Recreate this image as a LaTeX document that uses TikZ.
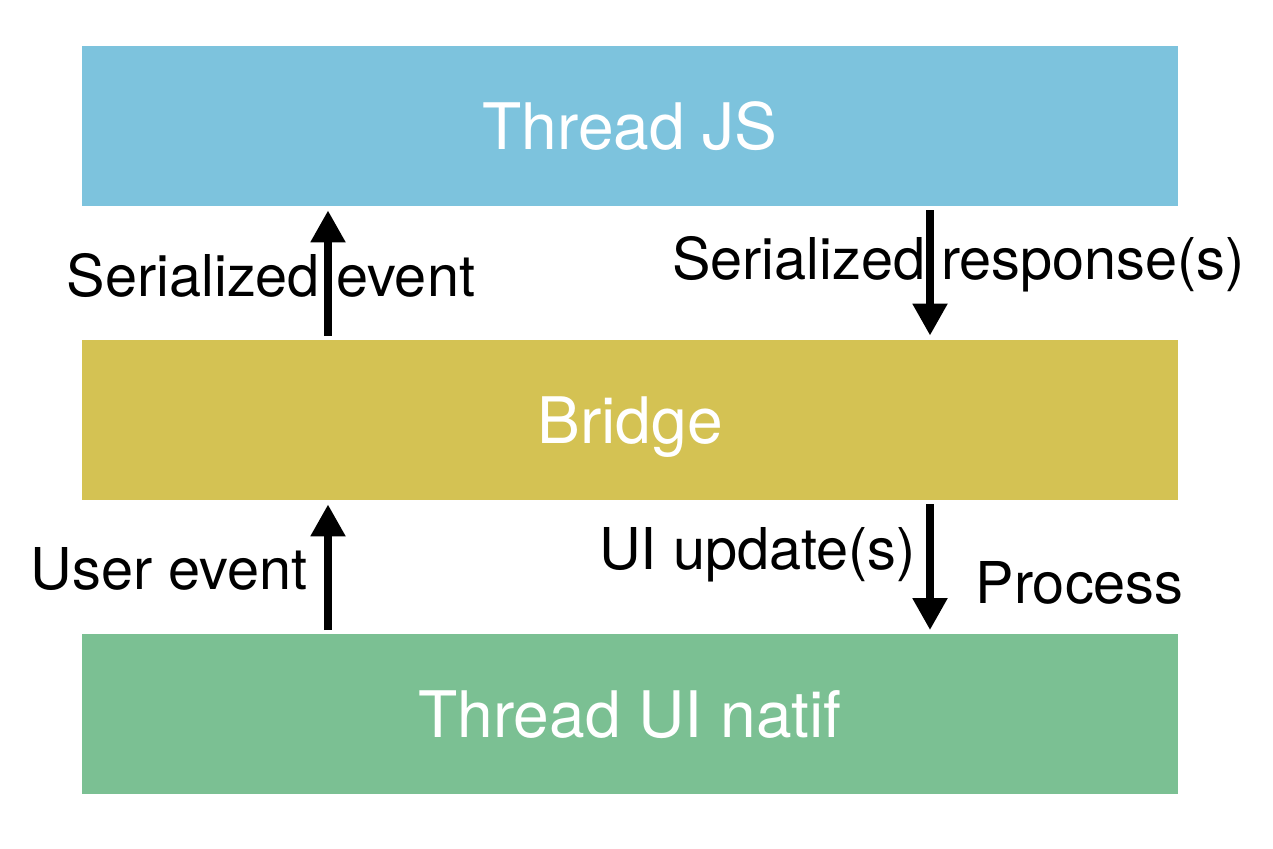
\documentclass[tikz,border=0pt]{standalone}
\usepackage{fontspec}
\setmainfont{TeX Gyre Heros}
\usetikzlibrary{arrows.meta}
\definecolor{jsblue}{HTML}{7DC3DD}
\definecolor{bridgegold}{HTML}{D4C253}
\definecolor{uigreen}{HTML}{7BC093}
\tikzset{
  layer/.style={minimum width=21.92cm, minimum height=3.2cm, inner sep=0pt,
    text=white, font=\fontsize{36.5}{40}\selectfont, text height=26.2pt, text depth=0pt},
  msg/.style={font=\fontsize{32.8}{36}\selectfont, anchor=base, inner sep=0pt},
  flow/.style={line width=0.16cm, -{Triangle[width=0.66cm,length=0.64cm]},
    shorten <=0.08cm, shorten >=0.08cm},
}

\begin{document}
\begin{tikzpicture}
  \useasboundingbox (0,0) rectangle (25.46,16.98);
  % Layers
  \node[layer, fill=jsblue] (js) at (12.6, 14.46) {Thread JS};
  \node[layer, fill=bridgegold] (bridge) at (12.6, 8.58) {Bridge};
  \node[layer, fill=uigreen] (ui) at (12.6, 2.69) {Thread UI natif};

  \coordinate (up) at (6.56, 0);
  \coordinate (down) at (18.6, 0);

  % Labels
  \node[msg] (serev) at (5.42, 11.04) {Serialized event};
  \node[msg] (serresp) at (19.17, 11.38) {Serialized response(s)};
  \node[msg] (userev) at (3.38, 5.18) {User event};
  \node[msg] (uiupd) at (15.15, 5.58) {UI update(s)};
  \node[msg] (proc) at (21.59, 4.9) {Process};

  % Arrows
  \draw[flow] (bridge.north -| up) -- (js.south -| up);
  \draw[flow] (js.south -| down) -- (bridge.north -| down);
  \draw[flow] (ui.north -| up) -- (bridge.south -| up);
  \draw[flow] (bridge.south -| down) -- (ui.north -| down);
\end{tikzpicture}
\end{document}
